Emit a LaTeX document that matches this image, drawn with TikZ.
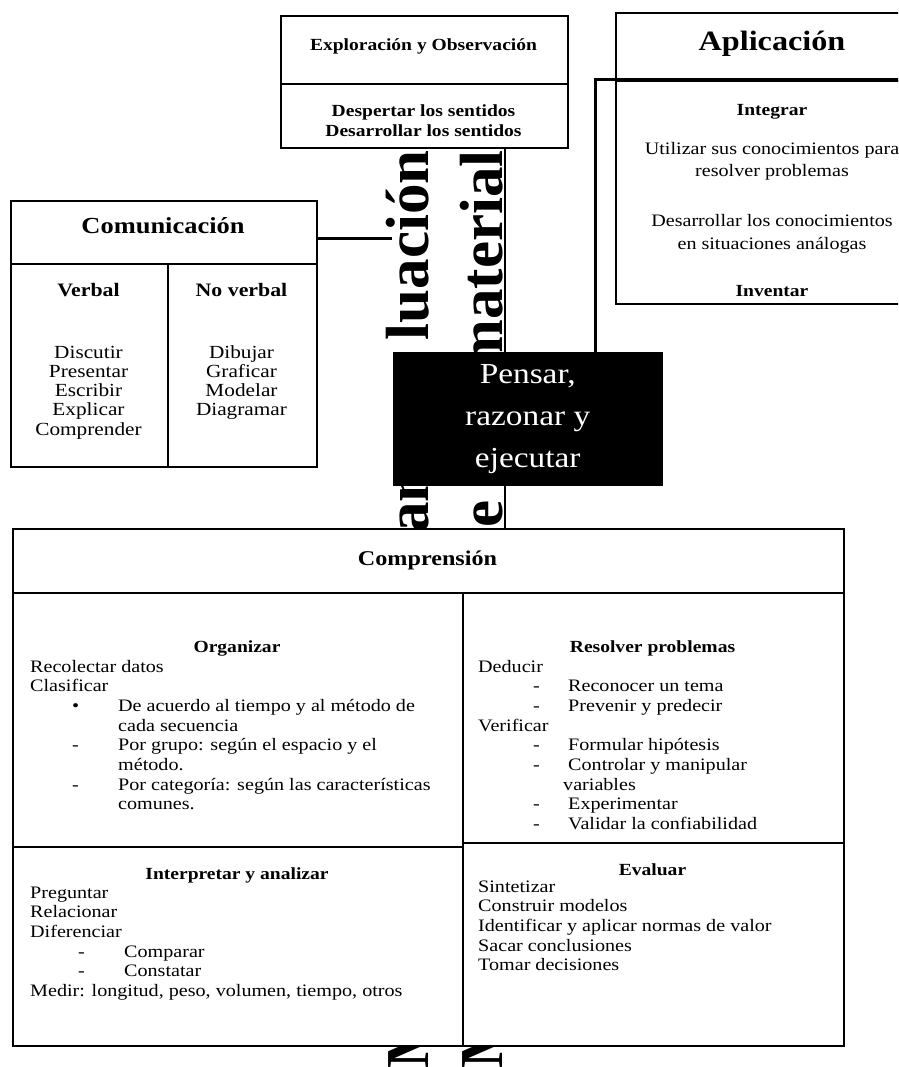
\documentclass[tikz,border=0pt]{standalone}
\usepackage{fontspec}
\setmainfont{Liberation Serif}[FakeStretch=1.15]
\newfontfamily\rotfont{Liberation Serif}

\tikzset{
	cell/.style={draw, fill=white, line width=1.6pt, inner sep=0pt, anchor=north west},
	ttl/.style={font=\bfseries\fontsize{17}{19.7}\selectfont, inner sep=0pt},
	txt/.style={font=\fontsize{17.5}{19.7}\selectfont, inner sep=0pt, anchor=base west},
	bigletters/.style={font=\rotfont\bfseries\fontsize{61}{61}\selectfont, rotate=90, inner sep=0pt},
	link/.style={line width=2.6pt},
}

\begin{document}
\begin{tikzpicture}[x=1pt,y=-1pt]
	\useasboundingbox (0,0) rectangle (898,1067);
	\clip (0,0) rectangle (898,1067);

	% vertical titles, mostly hidden behind the boxes
	\node[bigletters, anchor=base east] (rotA) at (428,150) {luación};
	\node[bigletters, anchor=base west] (rotB) at (428,533) {an};
	\node[bigletters, anchor=base west] (rotC) at (428,1069) {M};
	\node[bigletters, anchor=base east] (rotD) at (502,150) {material};
	\node[bigletters, anchor=base west] (rotE) at (502,528) {e};
	\node[bigletters, anchor=base west] (rotF) at (502,1069) {M};

	\coordinate (xline) at (505,0);
	\coordinate (aline) at (595,0);
	\coordinate (cend) at (392,0);

	% Exploracion
	\node[cell, minimum width=287pt, minimum height=68pt] (explhead) at (280,15) {};
	\node[ttl] (expltitle) at (423.5,46) {Exploración y Observación};
	\node[cell, minimum width=287pt, minimum height=64pt] (explbody) at (280,83) {};
	\node[ttl, anchor=base] (expltext) at (423.5,117)
	{
		\begin{tabular}[t]{@{}c@{}}
			Despertar los sentidos\\
			Desarrollar los sentidos
		\end{tabular}
	};

	% Aplicacion
	\node[cell, minimum width=310pt, minimum height=68pt] (aplhead) at (615,12) {};
	\node[ttl, font=\bfseries\fontsize{28}{30}\selectfont] (apltitle) at (772,44) {Aplicación};
	\node[cell, minimum width=310pt, minimum height=223pt] (aplbody) at (615,80) {};
	\node[ttl] (integrar) at (772,112) {Integrar};
	\node[txt, anchor=base] (utilizar) at (772,155)
	{
		\begin{tabular}[t]{@{}c@{}}
			Utilizar sus conocimientos para\\[2.3pt]
			resolver problemas
		\end{tabular}
	};
	\node[txt, anchor=base] (desarrollar) at (772,227)
	{
		\begin{tabular}[t]{@{}c@{}}
			Desarrollar los conocimientos\\[2.3pt]
			en situaciones análogas
		\end{tabular}
	};
	\node[ttl] (inventar) at (772,291) {Inventar};

	% Comunicacion
	\node[cell, minimum width=306pt, minimum height=63pt] (commhead) at (10,200) {};
	\node[ttl, font=\bfseries\fontsize{23}{25}\selectfont] (commtitle) at (163,226) {Comunicación};
	\node[cell, minimum width=157pt, minimum height=203pt] (verbal) at (10,263) {};
	\node[cell, minimum width=149pt, minimum height=203pt] (noverbal) at (167,263) {};
	\node[ttl, font=\bfseries\fontsize{19}{21}\selectfont] (verbaltitle) at (88.5,290) {Verbal};
	\node[ttl, font=\bfseries\fontsize{19}{21}\selectfont] (noverbaltitle) at (241.5,290) {No verbal};
	\node[txt, anchor=base, font=\fontsize{18.5}{19.3}\selectfont] (verballist) at (88.5,358)
	{
		\begin{tabular}[t]{@{}c@{}}
			Discutir\\ Presentar\\ Escribir\\ Explicar\\ Comprender
		\end{tabular}
	};
	\node[txt, anchor=base, font=\fontsize{18.5}{19.3}\selectfont] (noverballist) at (241.5,358)
	{
		\begin{tabular}[t]{@{}c@{}}
			Dibujar\\ Graficar\\ Modelar\\ Diagramar
		\end{tabular}
	};

	% Pensar
	\node[draw, fill=black, text=white, minimum width=269pt, minimum height=133pt,
		anchor=north west, align=center, inner sep=0pt,
		font=\fontsize{29}{42}\selectfont] (pensar) at (393,352) {Pensar,\\razonar y\\ejecutar};

	% Comprension
	\node[cell, minimum width=831pt, minimum height=64pt] (comprhead) at (12,528) {};
	\node[ttl, font=\bfseries\fontsize{21}{23}\selectfont] (comprtitle) at (427.5,560) {Comprensión};
	\node[cell, minimum width=450pt, minimum height=254pt] (organizar) at (12,592) {};
	\node[cell, minimum width=381pt, minimum height=250pt] (resolver) at (462,592) {};
	\node[cell, minimum width=450pt, minimum height=199pt] (interpretar) at (12,846) {};
	\node[cell, minimum width=381pt, minimum height=203pt] (evaluar) at (462,842) {};

	\node[ttl] (organizartitle) at (237,648) {Organizar};
	\node[txt] (organizarlist) at (30,672)
	{
		\begin{tabular}[t]{@{}p{42pt}@{}p{46pt}@{}l@{}}
			\multicolumn{3}{@{}l@{}}{Recolectar datos}\\
			\multicolumn{3}{@{}l@{}}{Clasificar}\\
			& • & De acuerdo al tiempo y al método de\\
			& & cada secuencia\\
			& - & Por grupo: según el espacio y el\\
			& & método.\\
			& - & Por categoría: según las características\\
			& & comunes.
		\end{tabular}
	};

	\node[ttl] (resolvertitle) at (652.5,648) {Resolver problemas};
	\node[txt] (resolverlist) at (478,672)
	{
		\begin{tabular}[t]{@{}p{55pt}@{}p{35pt}@{}l@{}}
			\multicolumn{3}{@{}l@{}}{Deducir}\\
			& - & Reconocer un tema\\
			& - & Prevenir y predecir\\
			\multicolumn{3}{@{}l@{}}{Verificar}\\
			& - & Formular hipótesis\\
			& - & Controlar y manipular\\
			& & \hspace*{-5pt}variables\\
			& - & Experimentar\\
			& - & Validar la confiabilidad
		\end{tabular}
	};

	\node[ttl] (interpretartitle) at (237,875) {Interpretar y analizar};
	\node[txt] (interpretarlist) at (30,898)
	{
		\begin{tabular}[t]{@{}p{48pt}@{}p{46pt}@{}l@{}}
			\multicolumn{3}{@{}l@{}}{Preguntar}\\
			\multicolumn{3}{@{}l@{}}{Relacionar}\\
			\multicolumn{3}{@{}l@{}}{Diferenciar}\\
			& - & Comparar\\
			& - & Constatar\\
			\multicolumn{3}{@{}l@{}}{Medir: longitud, peso, volumen, tiempo, otros}
		\end{tabular}
	};

	\node[ttl] (evaluartitle) at (652.5,870) {Evaluar};
	\node[txt] (evaluarlist) at (478,892)
	{
		\begin{tabular}[t]{@{}l@{}}
			Sintetizar\\
			Construir modelos\\
			Identificar y aplicar normas de valor\\
			Sacar conclusiones\\
			Tomar decisiones
		\end{tabular}
	};

	% connectors
	\draw[link] ([yshift=-6pt]commhead.east) -- ([yshift=-6pt]commhead.east -| cend);
	\draw[line width=1.8pt] (explbody.south -| xline) -- (xline |- pensar.north);
	\draw[line width=1.8pt] (xline |- pensar.south) -- (xline |- comprhead.north);
	\draw[link, line width=3pt] (aplbody.north east) -- (aplbody.north west) -- (aplbody.north west -| aline) -- (aline |- pensar.north);
\end{tikzpicture}
\end{document}
